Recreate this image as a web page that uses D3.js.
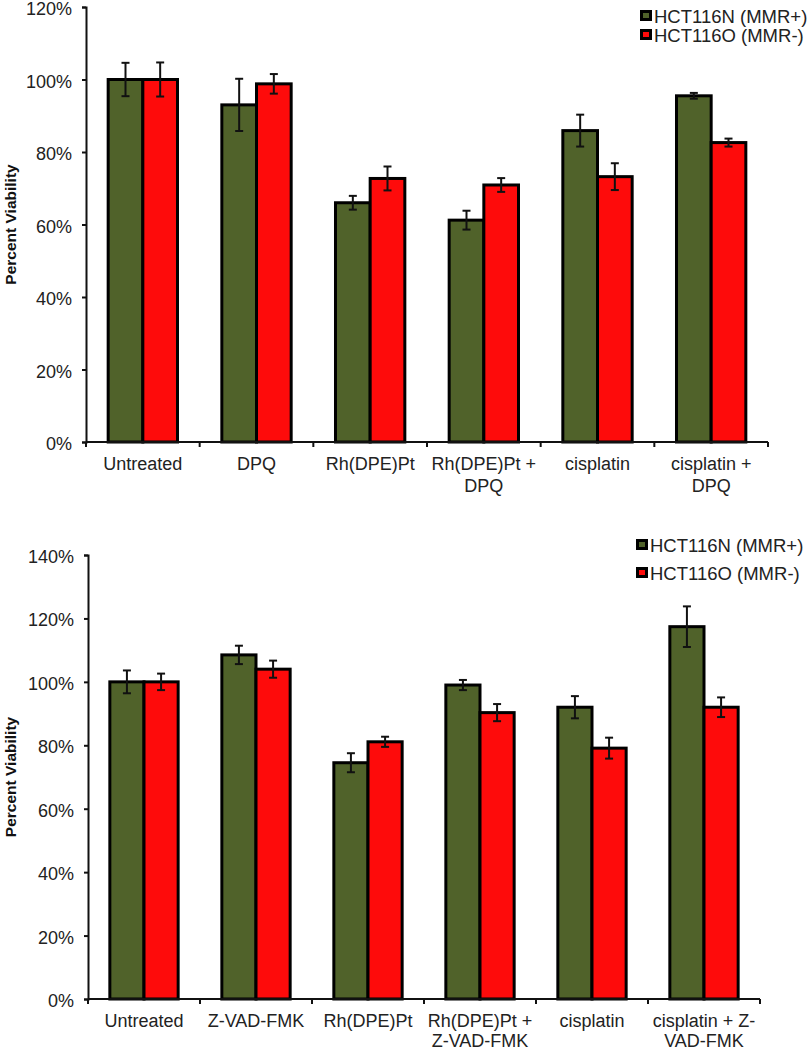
<!DOCTYPE html>
<html><head><meta charset="utf-8">
<script src="https://cdn.jsdelivr.net/npm/d3@7"></script>
<style>body{margin:0;background:#fff}svg{display:block}text{font-family:"Liberation Sans",Arial,sans-serif}</style>
</head><body><svg id="c" width="810" height="1050"></svg>
<script>
const seriesNames = ["HCT116N (MMR+)", "HCT116O (MMR-)"];
const colors = ["#50622a", "#fe0b0b"];

const topCategories = [["Untreated"], ["DPQ"], ["Rh(DPE)Pt"], ["Rh(DPE)Pt +", "DPQ"], ["cisplatin"], ["cisplatin +", "DPQ"]];
const topN = [100, 93.0, 66.0, 61.2, 85.9, 95.5];
const topNErr = [4.6, 7.2, 1.9, 2.6, 4.4, 0.8];
const topO = [100, 98.8, 72.7, 70.9, 73.2, 82.6];
const topOErr = [4.7, 2.7, 3.3, 1.9, 3.7, 1.1];
const topTicks = [0, 20, 40, 60, 80, 100, 120];

const botCategories = [["Untreated"], ["Z-VAD-FMK"], ["Rh(DPE)Pt"], ["Rh(DPE)Pt +", "Z-VAD-FMK"], ["cisplatin"], ["cisplatin + Z-", "VAD-FMK"]];
const botN = [100, 108.5, 74.5, 99.0, 92.0, 117.4];
const botNErr = [3.6, 2.9, 3.0, 1.6, 3.5, 6.4];
const botO = [100, 104.0, 81.1, 90.3, 79.1, 92.0];
const botOErr = [2.6, 2.7, 1.6, 2.7, 3.3, 3.1];
const botTicks = [0, 20, 40, 60, 80, 100, 120, 140];

const svg = d3.select("#c");

function drawChart(cfg) {
  const g = svg.append("g");
  const x = d3.scaleBand().domain(d3.range(cfg.cats.length)).range([cfg.x0, cfg.x1]).paddingInner(0).paddingOuter(0);
  const y = d3.scaleLinear().domain([0, cfg.max]).range([cfg.yBot, cfg.yTop]);
  const bw = x.bandwidth() * 0.305;
  const data = [];
  cfg.cats.forEach((c, i) => {
    data.push({i, s: 0, v: cfg.n[i], e: cfg.nErr[i]});
    data.push({i, s: 1, v: cfg.o[i], e: cfg.oErr[i]});
  });
  const bx = d => x(d.i) + x.bandwidth() / 2 + (d.s === 0 ? -bw : 0);
  g.selectAll("rect.bar").data(data).join("rect")
    .attr("x", bx).attr("width", bw)
    .attr("y", d => y(d.v)).attr("height", d => y(0) - y(d.v))
    .attr("fill", d => colors[d.s]).attr("stroke", "#000").attr("stroke-width", 3);
  const eg = g.selectAll("g.err").data(data).join("g").attr("stroke", "#111").attr("stroke-width", 2);
  eg.append("line").attr("x1", d => bx(d) + bw / 2).attr("x2", d => bx(d) + bw / 2)
    .attr("y1", d => y(d.v + d.e)).attr("y2", d => y(d.v - d.e));
  eg.append("line").attr("x1", d => bx(d) + bw / 2 - 4).attr("x2", d => bx(d) + bw / 2 + 4)
    .attr("y1", d => y(d.v + d.e)).attr("y2", d => y(d.v + d.e));
  eg.append("line").attr("x1", d => bx(d) + bw / 2 - 4).attr("x2", d => bx(d) + bw / 2 + 4)
    .attr("y1", d => y(d.v - d.e)).attr("y2", d => y(d.v - d.e));
  const ya = g.append("g").attr("transform", `translate(${cfg.x0},0)`)
    .call(d3.axisLeft(y).tickValues(cfg.ticks).tickFormat(d => d + "%").tickSize(4).tickPadding(10));
  ya.select(".domain").attr("stroke", "#111").attr("stroke-width", 2);
  ya.selectAll(".tick line").attr("stroke", "#111").attr("stroke-width", 2);
  ya.selectAll("text").attr("font-size", 18).attr("fill", "#222").attr("dy", "0.42em");
  const xa = g.append("g").attr("transform", `translate(0,${cfg.yBot})`);
  xa.append("line").attr("x1", cfg.x0).attr("x2", cfg.x1).attr("stroke", "#111").attr("stroke-width", 2);
  const bounds = d3.range(cfg.cats.length + 1).map(i => i < cfg.cats.length ? x(i) : cfg.x1);
  xa.selectAll("line.t").data(bounds).join("line").attr("class", "t")
    .attr("x1", d => d).attr("x2", d => d).attr("y1", 0).attr("y2", 5).attr("stroke", "#111").attr("stroke-width", 2);
  const lab = xa.selectAll("text.l").data(cfg.cats).join("text").attr("class", "l")
    .attr("text-anchor", "middle").attr("font-size", 18).attr("fill", "#222")
    .attr("x", (d, i) => x(i) + x.bandwidth() / 2).attr("y", 28);
  lab.selectAll("tspan").data(d => d).join("tspan")
    .attr("x", function () { return d3.select(this.parentNode).attr("x"); })
    .attr("dy", (d, j) => j === 0 ? 0 : cfg.lineH).text(d => d);
  g.append("text").attr("transform", `translate(16,${(cfg.yTop + cfg.yBot) / 2}) rotate(-90)`)
    .attr("text-anchor", "middle").attr("font-size", 15.5).attr("font-weight", "bold").attr("fill", "#111")
    .text("Percent Viability");
  seriesNames.forEach((s, k) => {
    const ly = cfg.legY + k * cfg.legDy;
    g.append("rect").attr("x", cfg.legX + 1.5).attr("y", ly - 5.5).attr("width", 9).attr("height", 8)
      .attr("fill", colors[k]).attr("stroke", "#000").attr("stroke-width", 3);
    g.append("text").attr("x", cfg.legX + 14).attr("y", ly).attr("dy", "0.35em")
      .attr("font-size", 18.5).attr("fill", "#222").text(s);
  });
}

drawChart({cats: topCategories, n: topN, nErr: topNErr, o: topO, oErr: topOErr, ticks: topTicks, max: 120,
  x0: 86, x1: 768, yTop: 7, yBot: 442, legX: 640, legY: 17, legDy: 19, lineH: 22});
drawChart({cats: botCategories, n: botN, nErr: botNErr, o: botO, oErr: botOErr, ticks: botTicks, max: 140,
  x0: 88, x1: 760, yTop: 555, yBot: 999, legX: 636, legY: 546, legDy: 28, lineH: 20});
</script></body></html>
